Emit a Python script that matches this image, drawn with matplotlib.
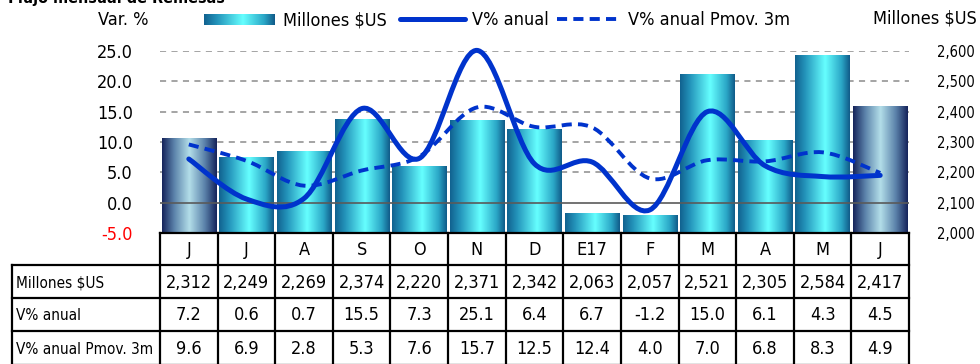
import numpy as np
import matplotlib
matplotlib.use("Agg")
import matplotlib.pyplot as plt
from matplotlib import font_manager as fm
from matplotlib.path import Path
from matplotlib.patches import PathPatch
from matplotlib.lines import Line2D
from matplotlib.colors import LinearSegmentedColormap

# ---- data -------------------------------------------------------------
months = ["J", "J", "A", "S", "O", "N", "D", "E17", "F", "M", "A", "M", "J"]
remesas = [2312, 2249, 2269, 2374, 2220, 2371, 2342, 2063, 2057, 2521, 2305, 2584, 2417]
var_anual = [7.2, 0.6, 0.7, 15.5, 7.3, 25.1, 6.4, 6.7, -1.2, 15.0, 6.1, 4.3, 4.5]
var_pmov3m = [9.6, 6.9, 2.8, 5.3, 7.6, 15.7, 12.5, 12.4, 4.0, 7.0, 6.8, 8.3, 4.9]
row_labels = ["Millones $US", "V% anual", "V% anual Pmov. 3m"]
left_ticks = [-5, 0, 5, 10, 15, 20, 25]
right_ticks = [2000, 2100, 2200, 2300, 2400, 2500, 2600]


# ---- narrow typeface if one is available -------------------------------
def find_narrow():
    regular, bold = None, None
    for f in fm.fontManager.ttflist:
        nm = f.name.lower()
        narrow = ("narrow" in nm or "condensed" in nm
                  or "condensed" in str(f.stretch).lower()
                  or "condensed" in f.fname.lower()
                  or "narrow" in f.fname.lower())
        if not narrow or f.style != "normal":
            continue
        if "extra" in str(f.stretch).lower() or "ultra" in str(f.stretch).lower():
            continue
        w = f.weight if isinstance(f.weight, int) else \
            (700 if "bold" in str(f.weight).lower() else 400)
        if w == 400 and regular is None:
            regular = f.fname
        elif w == 700 and bold is None:
            bold = f.fname
    return regular, bold


reg_file, bold_file = find_narrow()
if reg_file:
    FP = fm.FontProperties(fname=reg_file, size=13)
    FPB = fm.FontProperties(fname=bold_file or reg_file, size=12, weight="bold")
else:
    fam = ["Liberation Sans", "DejaVu Sans"]
    FP = fm.FontProperties(family=fam, size=11.5)
    FPB = fm.FontProperties(family=fam, size=10.5, weight="bold")

# ---- layout (pixels) --------------------------------------------------
W, H = 980, 364
X0, X1 = 160, 909          # plot area left / right
YT, YB = 51, 233           # plot area top / bottom
PX = 72 / 100              # points per pixel at 100 dpi
LINE_BLUE = "#0033cc"


def fx(px):
    return px / W


def fy(py):
    return 1 - py / H


fig = plt.figure(figsize=(W / 100, H / 100), dpi=100)
renderer = fig.canvas.get_renderer()


def fit_width(texts, max_px):
    """Shrink a group of texts until the widest one fits in max_px."""
    size = texts[0].get_fontsize()
    while size > 6:
        widest = max(t.get_window_extent(renderer).width for t in texts)
        if widest <= max_px:
            break
        size -= 0.25
        for t in texts:
            t.set_fontsize(size)


# bars live on the right-hand (Millones) scale
ax = fig.add_axes([fx(X0), fy(YB), (X1 - X0) / W, (YB - YT) / H])
ax.set_zorder(1)
ax.patch.set_visible(False)

cm_mid = LinearSegmentedColormap.from_list(
    "mid", [(0, "#11618f"), (0.18, "#2393ba"), (0.55, "#66ffff"),
            (0.85, "#2aa6c6"), (1, "#105a88")])
cm_end = LinearSegmentedColormap.from_list(
    "end", [(0, "#15235a"), (0.22, "#5b82aa"), (0.5, "#b3dee9"),
            (0.78, "#5b82aa"), (1, "#15235a")])
grad = np.linspace(0, 1, 256).reshape(1, -1)

n = len(months)
bw = 0.94
for i, v in enumerate(remesas):
    cmap = cm_end if i in (0, n - 1) else cm_mid
    ax.imshow(grad, extent=[i - bw / 2, i + bw / 2, right_ticks[0], v],
              aspect="auto", cmap=cmap, zorder=2, interpolation="bilinear")

ax.set_xlim(-0.5, n - 0.5)
ax.set_ylim(right_ticks[0], right_ticks[-1])
ax.set_xticks([])
for s in ax.spines.values():
    s.set_visible(False)
# dashed gridlines sit behind the bars
for t in right_ticks[2:]:
    ax.axhline(t, color="#8c8c8c", lw=1.1, ls=(0, (4, 3.5)), zorder=1)

# lines on the left-hand (Var. %) scale
ax2 = ax.twinx()
ax2.set_zorder(2)
ax2.patch.set_visible(False)
ax2.yaxis.tick_left()
ax2.set_ylim(left_ticks[0], left_ticks[-1])
ax2.set_yticks(left_ticks)
ax2.set_yticklabels([f"{t:.1f}" for t in left_ticks], fontproperties=FP)
ax2.get_yticklabels()[0].set_color("#ff0000")
ax2.tick_params(axis="y", length=0, pad=27 * PX)
for s in ax2.spines.values():
    s.set_visible(False)
ax2.axhline(0, color="#5a5a5a", lw=1.2, zorder=1)

# right-hand labels (set after twinx, which moves ticks to the left)
ax.yaxis.tick_right()
ax.set_yticks(right_ticks)
rlabels = ax.set_yticklabels([f"{t:,}" for t in right_ticks], fontproperties=FP)
ax.tick_params(axis="y", length=0, pad=28 * PX)
fit_width(rlabels, 38)


def smooth_path(xs, ys):
    xs = np.asarray(xs, float)
    ys = np.asarray(ys, float)
    m = len(xs)
    verts = [(xs[0], ys[0])]
    codes = [Path.MOVETO]
    for i in range(m - 1):
        xa, ya = (xs[i - 1], ys[i - 1]) if i > 0 else (xs[i], ys[i])
        xb, yb = (xs[i + 2], ys[i + 2]) if i + 2 < m else (xs[i + 1], ys[i + 1])
        c1 = (xs[i] + (xs[i + 1] - xa) / 6, ys[i] + (ys[i + 1] - ya) / 6)
        c2 = (xs[i + 1] - (xb - xs[i]) / 6, ys[i + 1] - (yb - ys[i]) / 6)
        verts += [c1, c2, (xs[i + 1], ys[i + 1])]
        codes += [Path.CURVE4] * 3
    return Path(verts, codes)


xs = np.arange(n)
ax2.add_patch(PathPatch(smooth_path(xs, var_pmov3m), fill=False, edgecolor=LINE_BLUE,
                        lw=2.8, ls=(0, (2.6, 1.6)), zorder=3, clip_on=False))
ax2.add_patch(PathPatch(smooth_path(xs, var_anual), fill=False, edgecolor=LINE_BLUE,
                        lw=3.6, capstyle="round", joinstyle="round", zorder=4,
                        clip_on=False))
ax2.set_xlim(-0.5, n - 0.5)

# ---- overlay for table, legend and captions (pixel coordinates) -------
ov = fig.add_axes([0, 0, 1, 1])
ov.set_xlim(0, W)
ov.set_ylim(H, 0)
ov.axis("off")
ov.set_zorder(3)
ov.patch.set_visible(False)

edges = X0 + np.arange(n + 1) * (X1 - X0) / n
row_edges = [265, 298, 331, 365]
TLW = 1.6

# category row
ov.plot([X0, X1], [YB, YB], color="k", lw=TLW)
for e in edges:
    ov.plot([e, e], [YB, row_edges[-1]], color="k", lw=TLW)
for i, m in enumerate(months):
    ov.text((edges[i] + edges[i + 1]) / 2, (YB + row_edges[0]) / 2 + 1, m,
            ha="center", va="center", fontproperties=FP)

# data rows
TL = 12
for r in row_edges:
    ov.plot([TL, X1], [r, r], color="k", lw=TLW)
ov.plot([TL, TL], [row_edges[0], row_edges[-1]], color="k", lw=TLW)

rows = [[f"{v:,}" for v in remesas],
        [f"{v:.1f}" for v in var_anual],
        [f"{v:.1f}" for v in var_pmov3m]]
row_texts = []
for k, (lab, vals) in enumerate(zip(row_labels, rows)):
    yc = (row_edges[k] + row_edges[k + 1]) / 2 + 1
    row_texts.append(ov.text(TL + 4, yc, lab, ha="left", va="center",
                             fontproperties=FP))
    for i, s in enumerate(vals):
        ov.text((edges[i] + edges[i + 1]) / 2, yc, s, ha="center", va="center",
                fontproperties=FP)
fit_width(row_texts, X0 - TL - 10)

# axis captions
ov.text(148, 20, "Var. %", ha="right", va="center", fontproperties=FP)
cap_r = ov.text(977, 18, "Millones $US", ha="right", va="center", fontproperties=FP)
title = ov.text(8, 3, "Flujo mensual de Remesas", ha="left", va="baseline",
                fontproperties=FPB)
fit_width([title], 218)

# legend
lax = fig.add_axes([fx(204), fy(25), 71 / W, 11 / H])
lax.imshow(grad, aspect="auto", cmap=cm_mid, interpolation="bilinear")
lax.axis("off")
ov.text(283, 20, "Millones $US", ha="left", va="center", fontproperties=FP)
ov.add_line(Line2D([400, 465], [19, 19], color=LINE_BLUE, lw=3.6, solid_capstyle="round"))
ov.text(472, 20, "V% anual", ha="left", va="center", fontproperties=FP)
ov.add_line(Line2D([557, 622], [19, 19], color=LINE_BLUE, lw=2.8, ls=(0, (2.6, 1.6))))
ov.text(628, 20, "V% anual Pmov. 3m", ha="left", va="center", fontproperties=FP)

fig.savefig("out.png", dpi=100)
